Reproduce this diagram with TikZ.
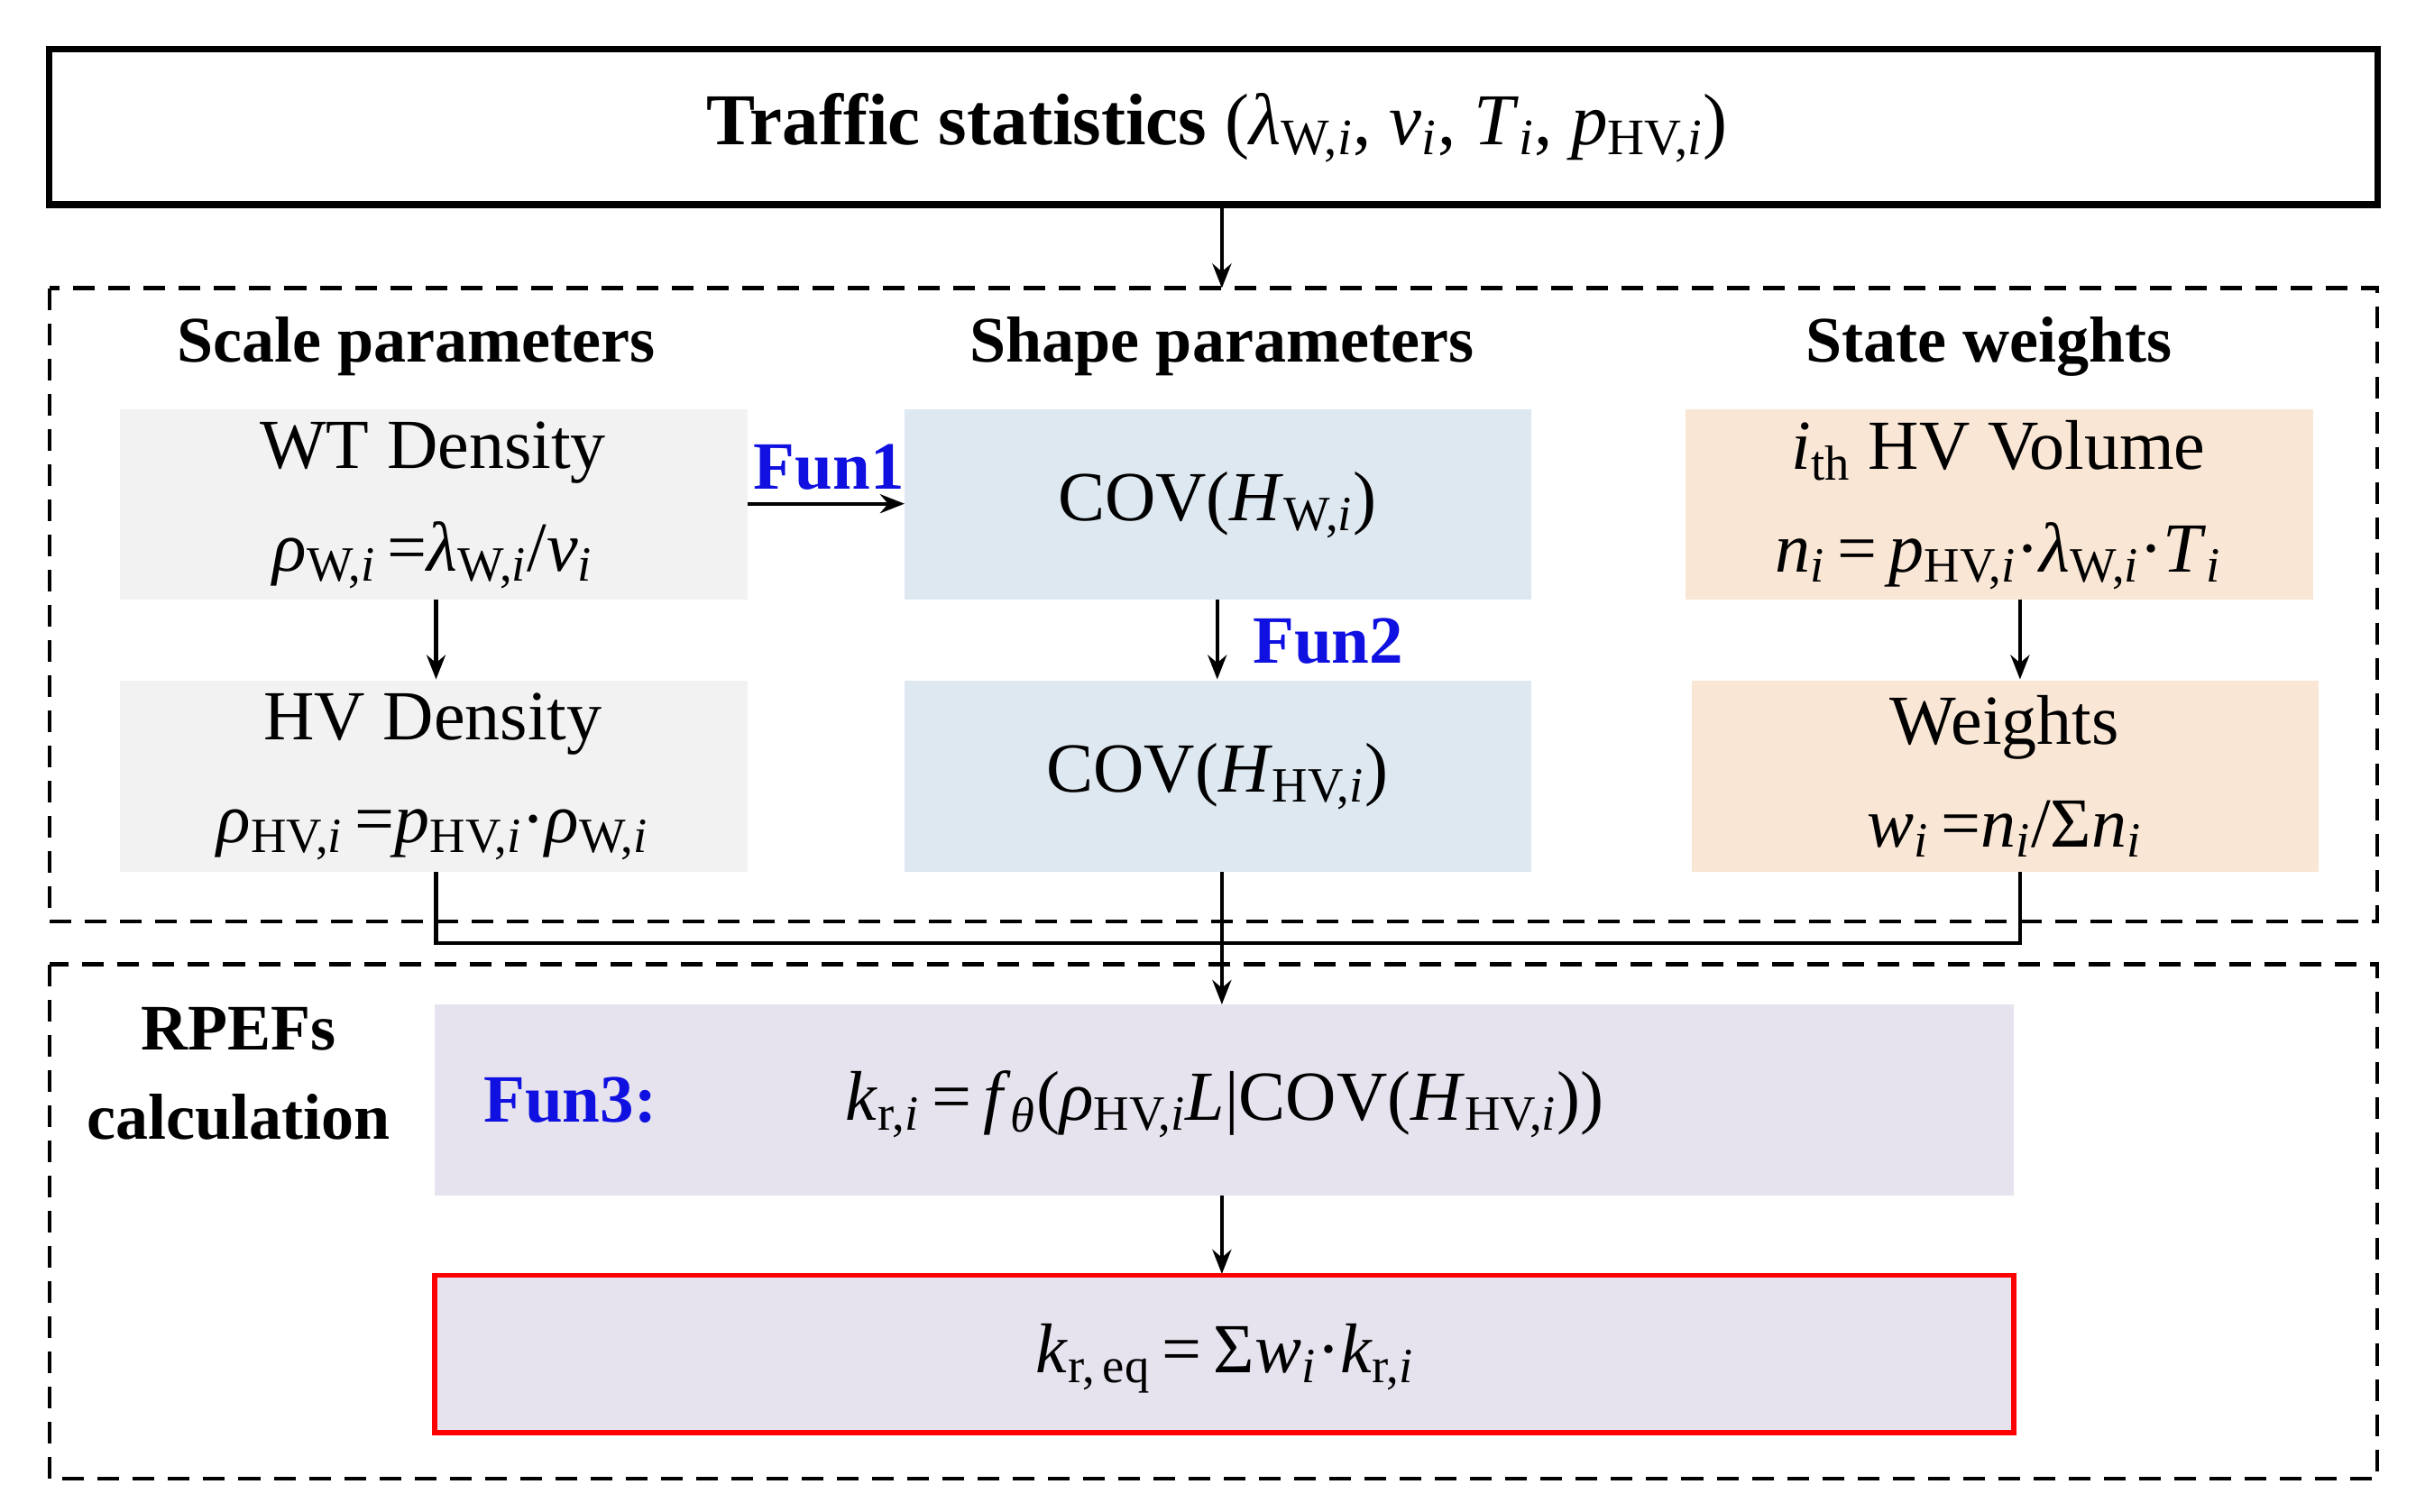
\documentclass[tikz,border=0pt]{standalone}
\usepackage{fontspec}
\setmainfont{Liberation Serif}
\usetikzlibrary{arrows.meta}
\newcommand{\I}[1]{\textit{#1}}
\newcommand{\sbs}[1]{\textsubscript{#1}}
\definecolor{gbox}{HTML}{F2F2F2}
\definecolor{bbox}{HTML}{DEE8F1}
\definecolor{obox}{HTML}{F9E6D5}
\definecolor{lbox}{HTML}{E6E3EE}
\definecolor{funblue}{HTML}{1010E0}
\begin{document}
\begin{tikzpicture}[x=0.02cm,y=-0.02cm,
  txt/.style={font=\fontsize{26}{38}\selectfont,align=center},
  hdr/.style={font=\bfseries\fontsize{24}{28}\selectfont},
  fun/.style={font=\bfseries\fontsize{25}{28}\selectfont,text=funblue},
  arr/.style={-{Stealth[length=9pt,width=7pt]},line width=1.4pt},
  dbox/.style={draw,line width=1.4pt,dash pattern=on 8pt off 5pt}]
\useasboundingbox (0,0) rectangle (1568,981);
% top
\draw[line width=2.5pt] (32,32) rectangle (1543,133);
\node (top) at (790,83) {\fontsize{27}{30}\selectfont\textbf{Traffic statistics} (\I{λ}\sbs{W,\I{i}}, \I{v}\sbs{\I{i}}, \I{T}\sbs{\I{i}}, \I{p}\sbs{HV,\I{i}})};
\coordinate (topb) at (793,133);
\coordinate (d1t) at (793,187);
\draw[arr] (topb) -- (d1t);
\draw[dbox] (32,187) rectangle (1543,598);
\node[hdr] at (270,225) {Scale parameters};
\node[hdr] at (793,225) {Shape parameters};
\node[hdr] at (1291,225) {State weights};
% boxes
\fill[gbox] (78,266) rectangle (485,389);
\fill[gbox] (78,442) rectangle (485,566);
\fill[bbox] (587,266) rectangle (994,389);
\fill[bbox] (587,442) rectangle (994,566);
\fill[obox] (1094,266) rectangle (1501,389);
\fill[obox] (1098,442) rectangle (1505,566);
\node[txt] (wt) at (281,328) {WT Density\\\I{ρ}\sbs{W,\I{i}}\,=\I{λ}\sbs{W,\I{i}}/\I{v}\sbs{\I{i}}};
\node[txt] (hv) at (281,504) {HV Density\\\I{ρ}\sbs{HV,\I{i}}\,=\I{p}\sbs{HV,\I{i}}·\I{ρ}\sbs{W,\I{i}}};
\node[txt] (cw) at (790,328) {COV(\I{H}\sbs{W,\I{i}})};
\node[txt] (ch) at (790,504) {COV(\I{H}\sbs{HV,\I{i}})};
\node[txt] (vol) at (1297,328) {\I{i}\sbs{th} HV Volume\\\I{n}\sbs{\I{i}}\,=\,\I{p}\sbs{HV,\I{i}}·\I{λ}\sbs{W,\I{i}}·\I{T}\sbs{\I{i}}};
\node[txt] (wts) at (1301,504) {Weights\\\I{w}\sbs{\I{i}}\,=\I{n}\sbs{\I{i}}/Σ\I{n}\sbs{\I{i}}};
\coordinate (wtr) at (485,327); \coordinate (cwl) at (587,327);
\draw[arr] (wtr) -- (cwl);
\node[fun] at (538,303) {Fun1};
\draw[arr] (283,389) -- (283,441);
\draw[arr] (790,389) -- (790,441);
\node[fun] at (862,416) {Fun2};
\draw[arr] (1311,389) -- (1311,441);
% merge lines
\draw[line width=1.4pt] (283,566) -- (283,612) -- (1311,612) -- (1311,566);
\coordinate (chb) at (793,566);
\coordinate (f3t) at (793,652);
\draw[arr] (chb) -- (f3t);
% lower
\draw[dbox] (32,626) rectangle (1543,960);
\node[font=\bfseries\fontsize{24}{33}\selectfont,align=center] at (155,697) {RPEFs\\calculation};
\fill[lbox] (282,652) rectangle (1307,776);
\node[fun] at (370,714) {Fun3:};
\node[txt] (f3) at (795,717) {\I{k}\sbs{r,\I{i}}\,=\,\I{f}\sbs{\I{θ}}(\I{ρ}\sbs{HV,\I{i}}\I{L}|COV(\I{H}\sbs{HV,\I{i}}))};
\draw[arr] (793,776) -- (793,827);
\draw[draw=red,fill=lbox,line width=1.8pt] (282,828) rectangle (1307,930);
\node[txt] (eq) at (795,882) {\I{k}\sbs{r,\,eq}\,=\,Σ\I{w}\sbs{\I{i}}·\I{k}\sbs{r,\I{i}}};
\end{tikzpicture}
\end{document}
